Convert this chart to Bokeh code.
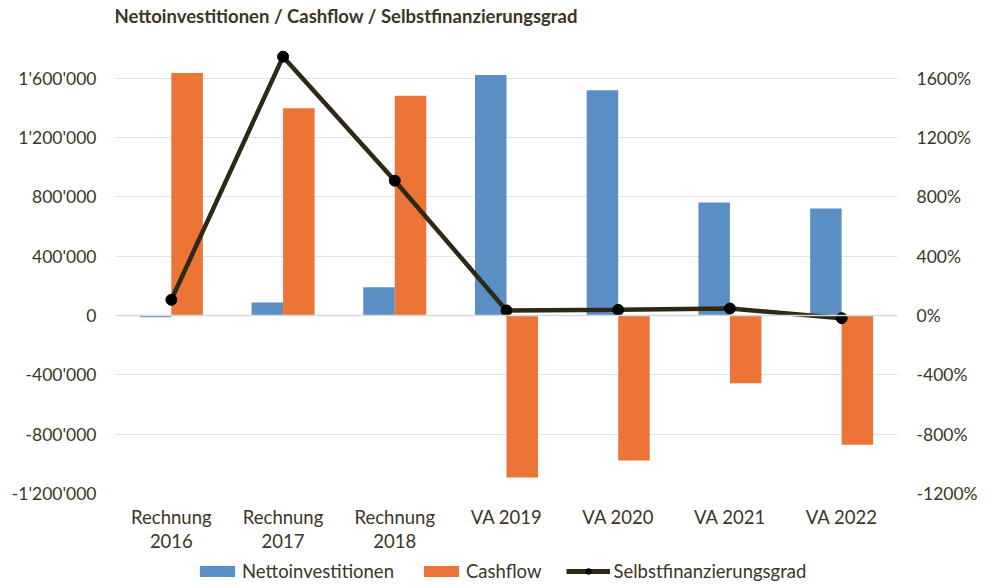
from bokeh.plotting import figure
from bokeh.models import (ColumnDataSource, Range1d, LinearAxis, FixedTicker, Span,
                          Legend, LegendItem, FactorRange, Label)
from bokeh.layouts import column
from bokeh.transform import dodge
from bokeh.embed import file_html
from bokeh.resources import INLINE

categories = ["Rechnung\n2016", "Rechnung\n2017", "Rechnung\n2018", "VA 2019", "VA 2020", "VA 2021", "VA 2022"]
netto = [-12000, 87000, 190000, 1622000, 1519000, 762000, 722000]
cashflow = [1634000, 1398000, 1482000, -1092000, -977000, -457000, -871000]
sfg = [106, 1745, 909, 34, 38, 47, -18]

left_ticks = [-1200000, -800000, -400000, 0, 400000, 800000, 1200000, 1600000]
left_labels = ["-1'200'000", "-800'000", "-400'000", "0", "400'000", "800'000", "1'200'000", "1'600'000"]
right_ticks = [-1200, -800, -400, 0, 400, 800, 1200, 1600]
right_labels = ["-1200%", "-800%", "-400%", "0%", "400%", "800%", "1200%", "1600%"]

title_text = "Nettoinvestitionen / Cashflow / Selbstfinanzierungsgrad"
series_names = ["Nettoinvestitionen", "Cashflow", "Selbstfinanzierungsgrad"]

FONT = "Lato"
TXT = "#3b3626"
FS = "17.5px"
BLUE = "#5a8fc6"
ORANGE = "#eb7436"
LINE = "#2e2914"
W = 980

src = ColumnDataSource(dict(cat=categories, netto=netto, cashflow=cashflow, sfg=sfg))

# ---- title strip ----
pt = figure(width=W, height=30, x_range=Range1d(0, 1), y_range=Range1d(0, 1),
            x_axis_type=None, y_axis_type=None, output_backend="svg", toolbar_location=None,
            min_border=0, outline_line_color=None)
pt.grid.visible = False
pt.add_layout(Label(x=-1, y=15, x_units="screen", y_units="screen", text=title_text,
                    text_font=FONT, text_font_size="18.5px", text_font_style="bold",
                    text_color=TXT, text_align="left", text_baseline="middle"))

# ---- main chart ----
p = figure(width=W, height=530, x_range=FactorRange(*categories, range_padding=0),
           y_range=Range1d(-1200000, 1800000),
           output_backend="svg", toolbar_location=None,
           min_border_left=115, min_border_right=70, min_border_top=18, min_border_bottom=67)
p.extra_y_ranges = {"pct": Range1d(-1200, 1800)}

p.outline_line_color = None
p.xgrid.grid_line_color = None
p.ygrid.grid_line_color = "#e3e3e3"
p.ygrid.grid_line_width = 1
p.ygrid.ticker = FixedTicker(ticks=left_ticks)

ax = p.yaxis[0]
ax.ticker = FixedTicker(ticks=left_ticks)
ax.major_label_overrides = {t: l for t, l in zip(left_ticks, left_labels)}
ax.axis_line_color = None
ax.major_tick_line_color = None
ax.minor_tick_line_color = None
ax.major_label_standoff = 13
ax.major_label_text_font = FONT
ax.major_label_text_font_size = FS
ax.major_label_text_color = TXT

rax = LinearAxis(y_range_name="pct")
rax.ticker = FixedTicker(ticks=right_ticks)
rax.major_label_overrides = {t: l for t, l in zip(right_ticks, right_labels)}
rax.axis_line_color = None
rax.major_tick_line_color = None
rax.minor_tick_line_color = None
rax.major_label_standoff = 13
rax.major_label_text_font = FONT
rax.major_label_text_font_size = FS
rax.major_label_text_color = TXT
p.add_layout(rax, "right")

xa = p.xaxis[0]
xa.axis_line_color = None
xa.major_tick_line_color = None
xa.minor_tick_line_color = None
xa.major_label_standoff = 6
xa.major_label_text_font = FONT
xa.major_label_text_font_size = "18.5px"
xa.major_label_text_color = TXT
xa.major_label_text_line_height = 1.1

p.add_layout(Span(location=0, dimension="width", line_color="#d9d9d9", line_width=1.5))

p.vbar(x=dodge("cat", -0.141, range=p.x_range), top="netto", bottom=0, width=0.282,
       source=src, fill_color=BLUE, line_color=None)
p.vbar(x=dodge("cat", 0.141, range=p.x_range), top="cashflow", bottom=0, width=0.282,
       source=src, fill_color=ORANGE, line_color=None)
p.line(x="cat", y="sfg", source=src, y_range_name="pct", line_color=LINE, line_width=4.5)
p.scatter(x="cat", y="sfg", source=src, y_range_name="pct", size=11,
          fill_color="black", line_color="black")

# ---- legend strip (same series, drawn outside the visible range; only the legend shows) ----
pl = figure(width=W, height=25, x_range=p.x_range, y_range=Range1d(1e12, 1e12 + 1),
            x_axis_type=None, y_axis_type=None, output_backend="svg", toolbar_location=None,
            min_border=0, outline_line_color=None)
pl.grid.visible = False
l1 = pl.vbar(x="cat", top="netto", bottom=0, width=0.282, source=src, fill_color=BLUE, line_color=None)
l2 = pl.vbar(x="cat", top="cashflow", bottom=0, width=0.282, source=src, fill_color=ORANGE, line_color=None)
l3 = pl.line(x="cat", y="sfg", source=src, line_color=LINE, line_width=5)
l4 = pl.scatter(x="cat", y="sfg", source=src, size=10, fill_color="black", line_color="black")

legend = Legend(items=[LegendItem(label=series_names[0], renderers=[l1]),
                       LegendItem(label=series_names[1], renderers=[l2]),
                       LegendItem(label=series_names[2], renderers=[l3, l4])],
                orientation="horizontal", location=(80, 3),
                glyph_width=44, glyph_height=14, label_standoff=3, spacing=25,
                padding=0, margin=0, border_line_color=None, background_fill_alpha=0,
                label_text_font=FONT, label_text_font_size="18.5px", label_text_color=TXT)
pl.add_layout(legend, "center")

layout = column(pt, p, pl, spacing=0)
open("out.html", "w").write(file_html(layout, INLINE))
